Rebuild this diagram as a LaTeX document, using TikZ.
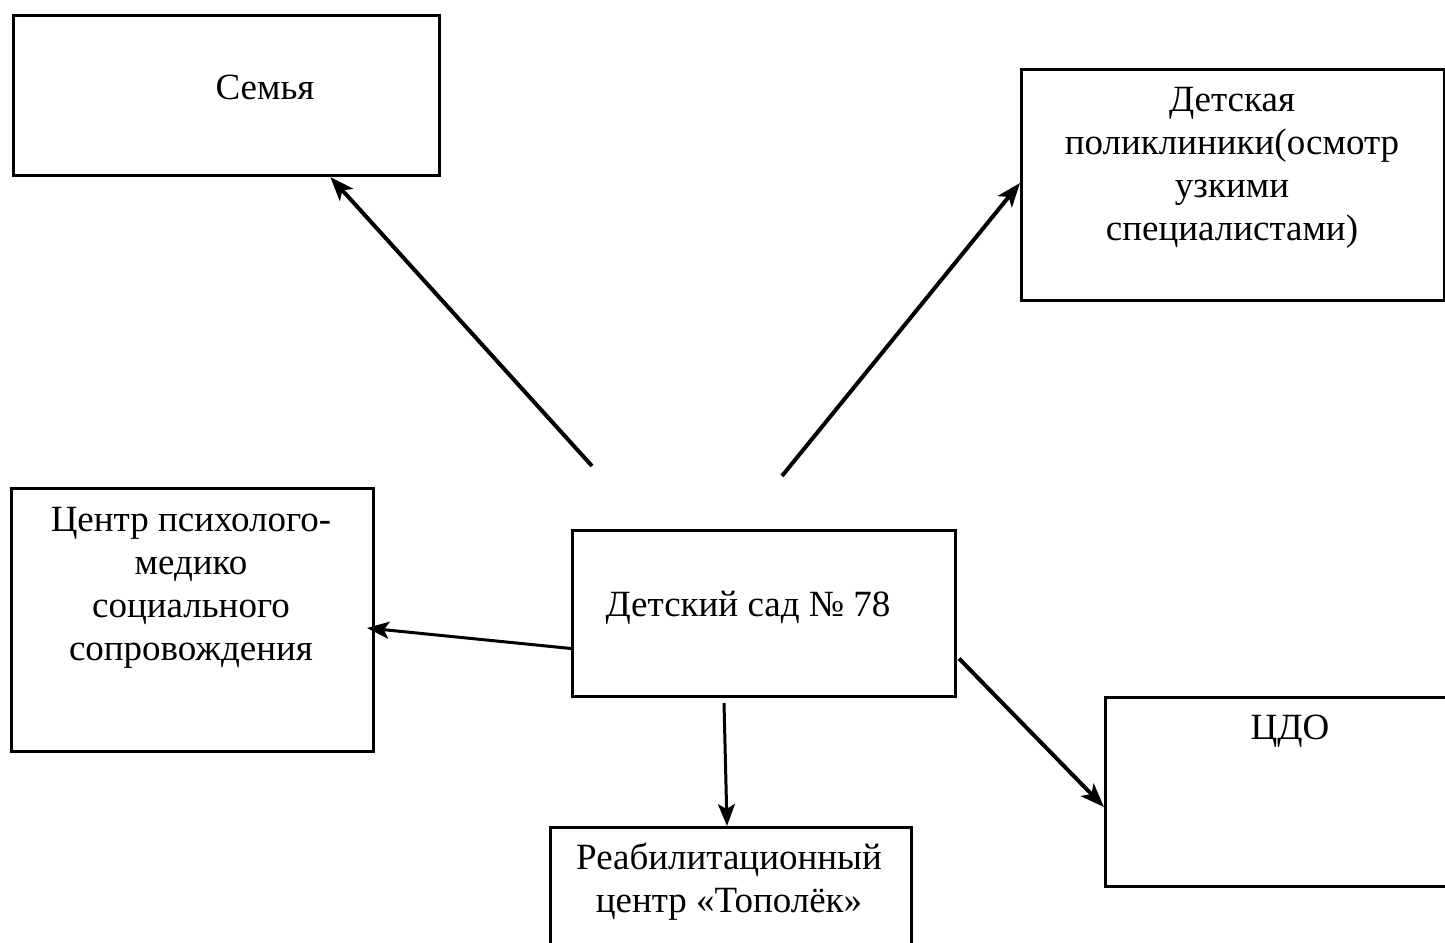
\documentclass[tikz,border=0pt]{standalone}
\usepackage{fontspec}
\setmainfont{Liberation Serif}
\usetikzlibrary{arrows.meta,calc}
\begin{document}
\begin{tikzpicture}[x=1pt,y=-1pt,
  box/.style={draw=black,line width=3pt,rectangle,inner sep=0pt,anchor=north west},
  txt/.style={align=center,inner sep=0pt,font=\fontsize{37}{43}\selectfont},
  arr/.style={line width=3pt,-{Stealth[length=22pt,width=17pt,inset=5pt]}},
  arrb/.style={line width=4pt,-{Stealth[length=24pt,width=18pt,inset=6pt]}}]
\useasboundingbox (0,0) rectangle (1445,942);
\clip (0,0) rectangle (1445,942);
% boxes
\node[box,minimum width=426pt,minimum height=160pt] (fam) at (12,14) {};
\node[box,minimum width=423pt,minimum height=231pt] (pol) at (1020,68) {};
\node[box,minimum width=362pt,minimum height=263pt] (pms) at (10,487) {};
\node[box,minimum width=383pt,minimum height=166pt] (sad) at (571,529) {};
\node[box,minimum width=360pt,minimum height=189pt] (cdo) at (1104,696) {};
\node[box,minimum width=361pt,minimum height=140pt] (reb) at (549,826) {};
% texts
\node[txt] (tfam) at (265,87) {Семья};
\node[txt] (tpol) at (1232,168) {Детская\\поликлиники(осмотр\\узкими\\специалистами)};
\node[txt] (tpms) at (191,588) {Центр психолого-\\медико\\социального\\сопровождения};
\node[txt] (tsad) at (748,608) {Детский сад № 78};
\node[txt] (tcdo) at (1290,731) {ЦДО};
\node[txt] (treb) at (729,882) {Реабилитационный\\центр «Тополёк»};
% free ends
\coordinate (s1) at (592,466);
\coordinate (s2) at (782,476);
\coordinate (s3) at (724,703);
% connectors
\draw[arrb] (s1) -- ($(fam.south west)!0.742!(fam.south east)$);
\draw[arrb] (s2) -- ($(pol.west)+(0,-2)$);
\draw[arr] ($(sad.west)+(0,35)$) -- ($(pms.east)+(-8,8)$);
\draw[arr] (s3) -- ($(reb.north west)+(178,0)$);
\draw[arrb] ($(sad.east)+(2,45)$) -- ($(cdo.north west)+(0,111)$);
\end{tikzpicture}
\end{document}
